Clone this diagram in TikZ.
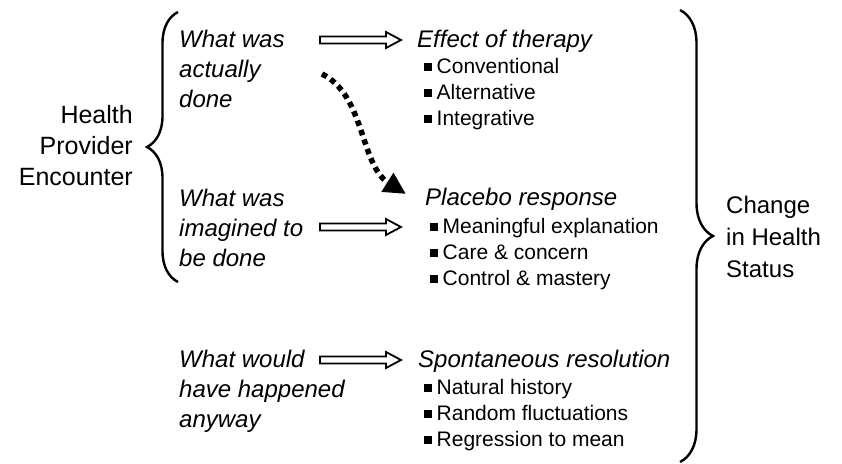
\documentclass[tikz,border=0pt]{standalone}
\usepackage{fontspec}
\setmainfont{Liberation Sans}
\usetikzlibrary{decorations.pathreplacing,arrows.meta,calc}
\newcommand{\bul}{\rule[2.5pt]{7.5pt}{7.5pt}\hspace{5pt}}
\newcommand{\hollowarrow}[2]{%
  \draw[harrow] let \p1=(#1), \p2=(#2) in
    (\x1,\y1+3.5pt) -- (\x2-15pt,\y1+3.5pt) -- (\x2-15pt,\y1+8pt) -- (\x2,\y1)
    -- (\x2-15pt,\y1-8pt) -- (\x2-15pt,\y1-3.5pt) -- (\x1,\y1-3.5pt) -- cycle;}
\begin{document}
\begin{tikzpicture}[x=1pt,y=-1pt,
  lbl/.style={inner sep=0pt, align=left, anchor=base west, font=\fontsize{24}{30}\selectfont\itshape},
  head/.style={inner sep=0pt, anchor=base west, font=\fontsize{24}{30}\selectfont\itshape},
  bullets/.style={inner sep=0pt, align=left, anchor=base west, font=\fontsize{21}{26}\selectfont},
  big/.style={inner sep=0pt},
  harrow/.style={line width=1.8pt, fill=white, line join=miter},
  bracestyle/.style={line width=2.4pt, decorate},
  dotarrow/.style={line width=5.5pt, dash pattern=on 5.5pt off 4.5pt, line cap=butt,
    -{Triangle[length=22pt,width=21pt]}}]
\useasboundingbox (0,0) rectangle (842,463);

% left label and brace (multi-line nodes: base = last line's baseline)
\node[big, font=\fontsize{25}{31}\selectfont, align=right, anchor=base east] (hpe) at (133,185) {Health\\Provider\\Encounter};
\draw[bracestyle, decoration={brace, amplitude=31pt}] (178,282) -- (178,12);

% left column
\node[lbl] (w1) at (179,107) {What was\\actually\\done};
\node[lbl] (w2) at (179,266) {What was\\imagined to\\be done};
\node[lbl] (w3) at (179,427) {What would\\have happened\\anyway};

% middle column
\node[head] (h1) at (417,47) {Effect of therapy};
\node[bullets] (b1) at (424,125) {\bul Conventional\\\bul Alternative\\\bul Integrative};
\node[head] (h2) at (425,205) {Placebo response};
\node[bullets] (b2) at (430,285) {\bul Meaningful explanation\\\bul Care \& concern\\\bul Control \& mastery};
\node[head] (h3) at (418,367) {Spontaneous resolution};
\node[bullets] (b3) at (424,446) {\bul Natural history\\\bul Random fluctuations\\\bul Regression to mean};

% hollow arrows
\coordinate (a1s) at (320,40);  \coordinate (a1e) at (401,40);
\coordinate (a2s) at (320,227); \coordinate (a2e) at (401,227);
\coordinate (a3s) at (320,360); \coordinate (a3e) at (401,360);
\hollowarrow{a1s}{a1e}
\hollowarrow{a2s}{a2e}
\hollowarrow{a3s}{a3e}

% dotted arrow
\coordinate (ds) at (322,74);
\coordinate (de) at (406,194);
\draw[dotarrow] (ds) .. controls (365,95) and (360,165) .. (de);

% right brace and label
\draw[bracestyle, decoration={brace, amplitude=33pt}] (680,10) -- (680,462);
\node[big, font=\fontsize{24}{32}\selectfont, align=left, anchor=base west] (chs) at (726,277) {Change\\in Health\\Status};
\end{tikzpicture}
\end{document}
